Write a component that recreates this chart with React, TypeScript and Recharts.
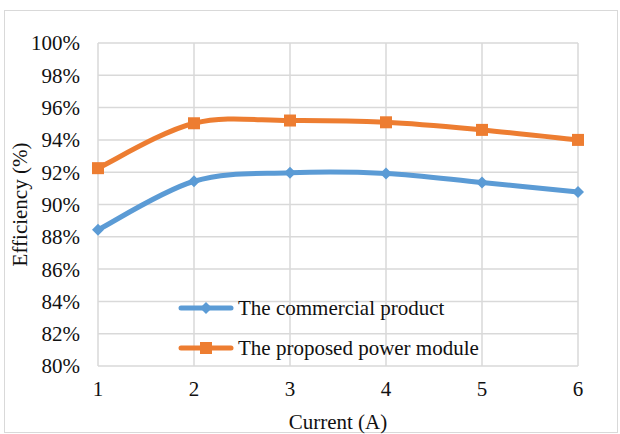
import React from "react";
import {
  LineChart,
  Line,
  XAxis,
  YAxis,
  CartesianGrid,
  Legend,
} from "recharts";

const currents = [1, 2, 3, 4, 5, 6];
const commercial = [0.8843, 0.9144, 0.9196, 0.9192, 0.9136, 0.9078];
const proposed = [0.9225, 0.9503, 0.952, 0.9509, 0.9462, 0.94];
const yTicks = [0.8, 0.82, 0.84, 0.86, 0.88, 0.9, 0.92, 0.94, 0.96, 0.98, 1];

const seriesNames = ["The commercial product", "The proposed power module"];
const BLUE = "#5B9BD5";
const ORANGE = "#ED7D31";
const FONT = "'Liberation Serif', 'Times New Roman', serif";
const FS = 21;

const data = currents.map((c, i) => ({
  current: c,
  commercial: commercial[i],
  proposed: proposed[i],
}));

// catmull-rom style smoothing, passes through every point
const smoothCurve = (context: any) => {
  let pts: number[][] = [];
  return {
    areaStart() {},
    areaEnd() {},
    lineStart() {
      pts = [];
    },
    point(x: number, y: number) {
      pts.push([+x, +y]);
    },
    lineEnd() {
      if (!pts.length) return;
      context.moveTo(pts[0][0], pts[0][1]);
      for (let i = 0; i < pts.length - 1; i++) {
        const p0 = pts[i - 1] || pts[i];
        const p1 = pts[i];
        const p2 = pts[i + 1];
        const p3 = pts[i + 2] || p2;
        context.bezierCurveTo(
          p1[0] + (p2[0] - p0[0]) / 6,
          p1[1] + (p2[1] - p0[1]) / 6,
          p2[0] - (p3[0] - p1[0]) / 6,
          p2[1] - (p3[1] - p1[1]) / 6,
          p2[0],
          p2[1]
        );
      }
    },
  };
};

const Diamond = (props: any) => {
  const { cx, cy } = props;
  const r = 6;
  return (
    <path
      d={`M${cx},${cy - r}L${cx + r},${cy}L${cx},${cy + r}L${cx - r},${cy}Z`}
      fill={BLUE}
    />
  );
};

const Square = (props: any) => {
  const { cx, cy } = props;
  const s = 12;
  return <rect x={cx - s / 2} y={cy - s / 2} width={s} height={s} fill={ORANGE} />;
};

const legendRow = (name: string, color: string, square: boolean) => (
  <div key={name} style={{ display: "flex", alignItems: "center", height: 40 }}>
    <svg width={56} height={16}>
      <line x1={3} y1={8} x2={53} y2={8} stroke={color} strokeWidth={5} strokeLinecap="round" />
      {square ? (
        <rect x={22} y={2} width={12} height={12} fill={color} />
      ) : (
        <path d="M28,2L34,8L28,14L22,8Z" fill={color} />
      )}
    </svg>
    <span style={{ marginLeft: 4, fontFamily: FONT, fontSize: FS, color: "#111" }}>{name}</span>
  </div>
);

const renderLegend = () => (
  <div>
    {legendRow(seriesNames[0], BLUE, false)}
    {legendRow(seriesNames[1], ORANGE, true)}
  </div>
);

export default function App() {
  return (
    <div
      style={{
        position: "absolute",
        left: 0,
        top: 0,
        width: 620,
        height: 434,
        background: "#fff",
      }}
    >
      <div
        style={{
          position: "absolute",
          left: 4,
          top: 10,
          width: 612,
          height: 421,
          border: "1px solid #d9d9d9",
        }}
      />
      <LineChart
        width={620}
        height={434}
        data={data}
        margin={{ top: 43, right: 42, bottom: 0, left: 0 }}
      >
        <CartesianGrid stroke="#d9d9d9" strokeWidth={1.5} />
        <XAxis
          dataKey="current"
          type="number"
          domain={[1, 6]}
          ticks={currents}
          height={68}
          axisLine={false}
          tickLine={false}
          tickMargin={9}
          tick={{ fill: "#111", fontSize: FS, fontFamily: FONT }}
          label={{
            value: "Current (A)",
            position: "insideBottom",
            offset: 5,
            fill: "#111",
            fontSize: FS,
            fontFamily: FONT,
          }}
        />
        <YAxis
          domain={[0.8, 1]}
          ticks={yTicks}
          width={98}
          axisLine={false}
          tickLine={false}
          tickMargin={12}
          tickFormatter={(v: number) => `${Math.round(v * 100)}%`}
          tick={{ fill: "#111", fontSize: FS, fontFamily: FONT }}
          label={{
            value: "Efficiency (%)",
            angle: -90,
            position: "insideLeft",
            offset: 20,
            style: { textAnchor: "middle" },
            fill: "#111",
            fontSize: FS,
            fontFamily: FONT,
          }}
        />
        <Legend
          content={renderLegend}
          layout="vertical"
          verticalAlign="middle"
          align="center"
          wrapperStyle={{ left: 178, top: 288, width: 360 }}
        />
        <Line
          dataKey="commercial"
          name={seriesNames[0]}
          type={smoothCurve as any}
          stroke={BLUE}
          strokeWidth={5}
          dot={<Diamond />}
          isAnimationActive={false}
        />
        <Line
          dataKey="proposed"
          name={seriesNames[1]}
          type={smoothCurve as any}
          stroke={ORANGE}
          strokeWidth={5}
          dot={<Square />}
          isAnimationActive={false}
        />
      </LineChart>
    </div>
  );
}
